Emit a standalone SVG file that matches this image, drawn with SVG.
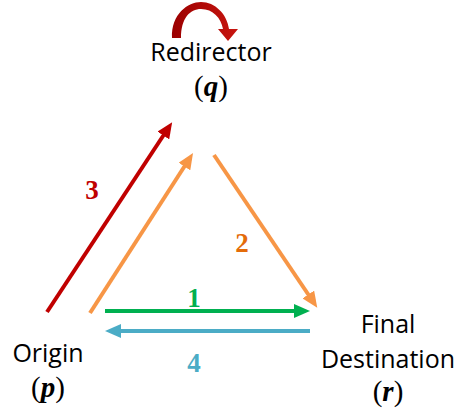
<svg xmlns="http://www.w3.org/2000/svg" width="457" height="410" viewBox="0 0 457 410">
<style>
.lbl{font-family:"Open Sans","Liberation Sans",sans-serif;font-size:25px;fill:#000;text-anchor:middle}
.math{font-family:"Liberation Serif","DejaVu Serif",serif;font-size:29px;fill:#000;text-anchor:middle}
.num{font-family:"Liberation Serif","DejaVu Serif",serif;font-size:27px;font-weight:bold;text-anchor:middle}
.ln{fill:none;stroke-width:4}
</style>
<defs>
<marker id="mRed" markerUnits="userSpaceOnUse" markerWidth="16" markerHeight="14" refX="3" refY="7" orient="auto"><path d="M0,0 L16,7 L0,14 z" fill="#c00000"/></marker>
<marker id="mOr" markerUnits="userSpaceOnUse" markerWidth="16" markerHeight="14" refX="3" refY="7" orient="auto"><path d="M0,0 L16,7 L0,14 z" fill="#f79646"/></marker>
<marker id="mGr" markerUnits="userSpaceOnUse" markerWidth="16" markerHeight="14" refX="3" refY="7" orient="auto"><path d="M0,0 L16,7 L0,14 z" fill="#00b050"/></marker>
<marker id="mBl" markerUnits="userSpaceOnUse" markerWidth="16" markerHeight="14" refX="3" refY="7" orient="auto"><path d="M0,0 L16,7 L0,14 z" fill="#4bacc6"/></marker>
<linearGradient id="gRed" x1="0" y1="0" x2="1" y2="0"><stop offset="0" stop-color="#9b0000"/><stop offset="1" stop-color="#c8150f"/></linearGradient>
</defs>
<g id="connectors">
<line class="ln" x1="47" y1="312" x2="165" y2="133" stroke="#c00000" marker-end="url(#mRed)"/>
<line class="ln" x1="90" y1="313" x2="186" y2="164" stroke="#f79646" stroke-width="3.5" marker-end="url(#mOr)"/>
<line class="ln" x1="214" y1="155" x2="310" y2="297" stroke="#f79646" stroke-width="3.5" marker-end="url(#mOr)"/>
<line class="ln" x1="105" y1="311" x2="297" y2="311" stroke="#00b050" marker-end="url(#mGr)"/>
<line class="ln" x1="310" y1="331" x2="118" y2="331" stroke="#4bacc6" marker-end="url(#mBl)"/>
<text class="num" x="92" y="199" fill="#c00000">3</text>
<text class="num" x="242" y="252" fill="#e46c0a">2</text>
<text class="num" x="194" y="307" fill="#00b050">1</text>
<text class="num" x="194" y="372" fill="#4bacc6">4</text>
</g>
<g id="redirector">
<path d="M172,38 C171,14 188,2 201,2 C215,2 227,14 229,29 L238,29 L228,41 L218,29 L223,29 C221,18 213,9 201,9 C190,9 181,18 181,38 Z" fill="url(#gRed)"/>
<text class="lbl" x="211" y="61">Redirector</text>
<text class="math" x="211" y="96">(<tspan font-weight="bold" font-style="italic">q</tspan>)</text>
</g>
<g id="origin">
<text class="lbl" x="48" y="362">Origin</text>
<text class="math" x="48" y="397">(<tspan font-weight="bold" font-style="italic">p</tspan>)</text>
</g>
<g id="destination">
<text class="lbl" x="388" y="333">Final</text>
<text class="lbl" x="388" y="368">Destination</text>
<text class="math" x="388" y="401">(<tspan font-weight="bold" font-style="italic">r</tspan>)</text>
</g>
</svg>
